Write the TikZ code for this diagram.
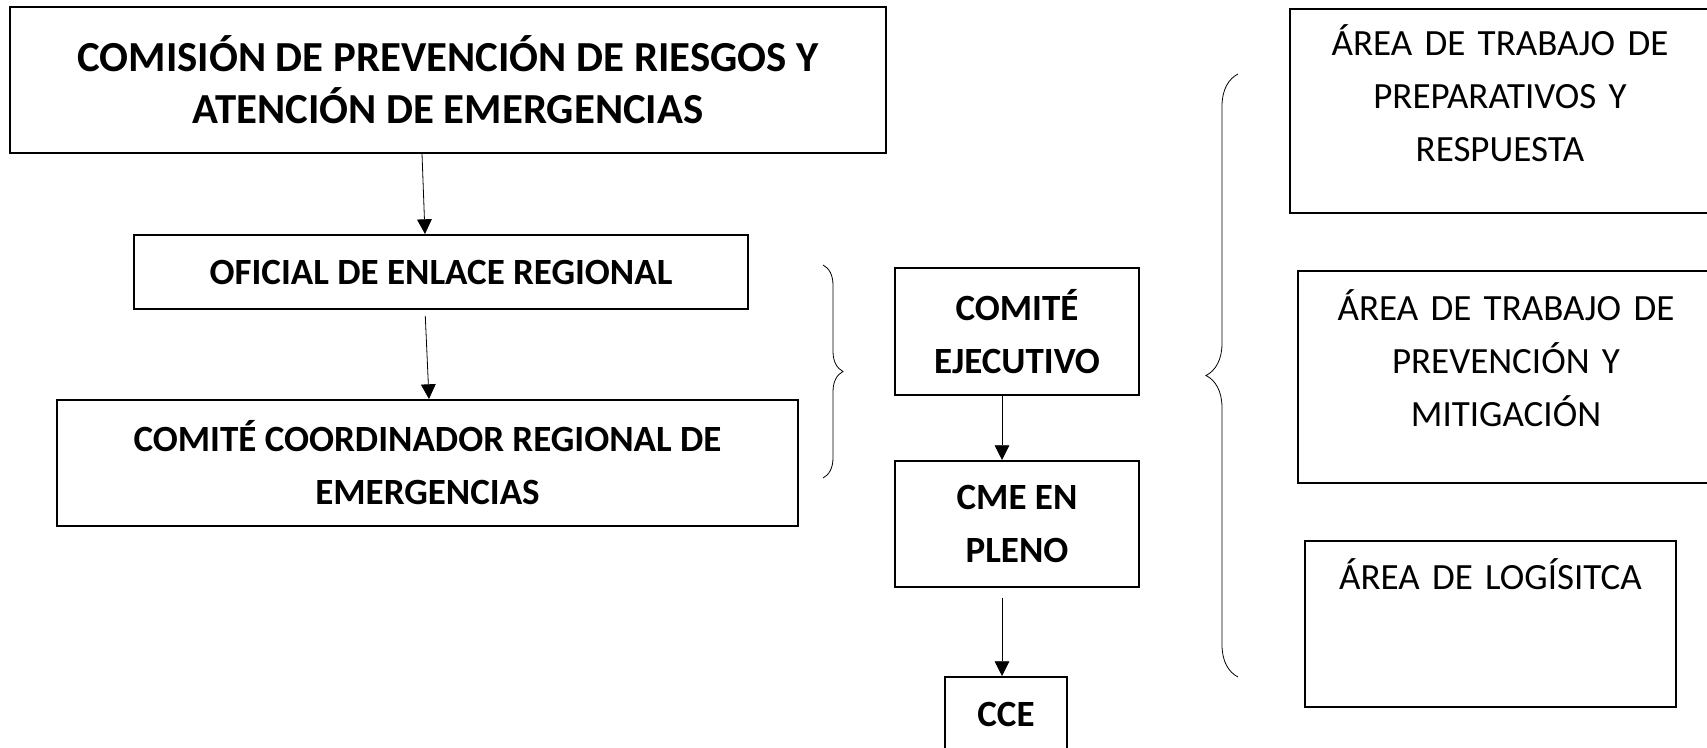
\documentclass[tikz,border=0pt]{standalone}
\usepackage{fontspec}
\setmainfont{Carlito}
\usetikzlibrary{positioning, arrows.meta, decorations.pathreplacing}

\begin{document}
\begin{tikzpicture}[x=0.5pt, y=-0.5pt]
\tikzset{
->, % every connector is an arrow
>={Triangle[length=7.5pt, width=7.5pt]}, % filled triangular heads
line width=0.5pt, % thin arrows and braces
node distance=96pt, % vertical step between the boxes
box/.style={draw, line width=0.8pt, align=center, inner sep=0pt, font=\bfseries\fontsize{18.5}{26.5}\selectfont}, % bold boxes
area/.style={draw, line width=0.7pt, align=center, inner sep=0pt, font=\fontsize{18.5}{26.5}\selectfont}, % work areas, text on top
curly/.style={-, decorate, decoration={brace, amplitude=#1}}, % braces between the columns
}
	\useasboundingbox (0,0) rectangle (1707,748);

	\node[box, font=\bfseries\fontsize{21.4}{26}\selectfont, minimum width=438pt, minimum height=73pt] (comision) at (448,80) {COMISIÓN DE PREVENCIÓN DE RIESGOS Y\\ATENCIÓN DE EMERGENCIAS};
	\node[box, below of=comision, xshift=-3.5pt, minimum width=307pt, minimum height=37pt] (oficial) {OFICIAL DE ENLACE REGIONAL};
	\node[box, below of=oficial, node distance=95.5pt, xshift=-6.75pt, minimum width=370.5pt, minimum height=63pt] (coordinador) {COMITÉ COORDINADOR REGIONAL DE\\EMERGENCIAS};
	\node[box, right of=oficial, node distance=288pt, yshift=-29.75pt, minimum width=122pt, minimum height=63.5pt] (ejecutivo) {COMITÉ\\EJECUTIVO};
	\node[box, below of=ejecutivo, node distance=96.25pt, minimum width=122pt, minimum height=63pt] (pleno) {CME EN\\PLENO};
	\node[box, below of=pleno, node distance=95.25pt, xshift=-5.5pt, minimum width=61pt, minimum height=37.5pt] (cce) {CCE};

	\node[area, right of=comision, node distance=526pt, yshift=-15.5pt, text width=210pt, text height=23.5pt, text depth=78.5pt] (preparativos) {ÁREA DE TRABAJO DE\\PREPARATIVOS Y\\RESPUESTA};
	\node[area, below of=preparativos, node distance=133pt, xshift=3pt, text width=208pt, text height=25pt, text depth=81pt] (prevencion) {ÁREA DE TRABAJO DE\\PREVENCIÓN Y\\MITIGACIÓN};
	\node[area, below of=prevencion, node distance=123.5pt, xshift=-7.75pt, text width=185.5pt, text height=24pt, text depth=59pt] (logistica) {ÁREA DE LOGÍSITCA};

	\draw ([xshift=-13pt]comision.south) -- ([xshift=-8pt]oficial.north);
	\draw[shorten <=3pt] ([xshift=-8pt]oficial.south) -- ([xshift=0.75pt]coordinador.north);
	\draw ([xshift=-7.5pt]ejecutivo.south) -- ([xshift=-7.5pt]pleno.north);
	\draw[shorten <=5pt] ([xshift=-7.5pt]pleno.south) -- ([xshift=-2pt]cce.north);

	\draw[curly=10pt] (823,265) -- (823,478);
	\draw[curly=16pt] (1238,677) -- (1238,74);
\end{tikzpicture}
\end{document}
